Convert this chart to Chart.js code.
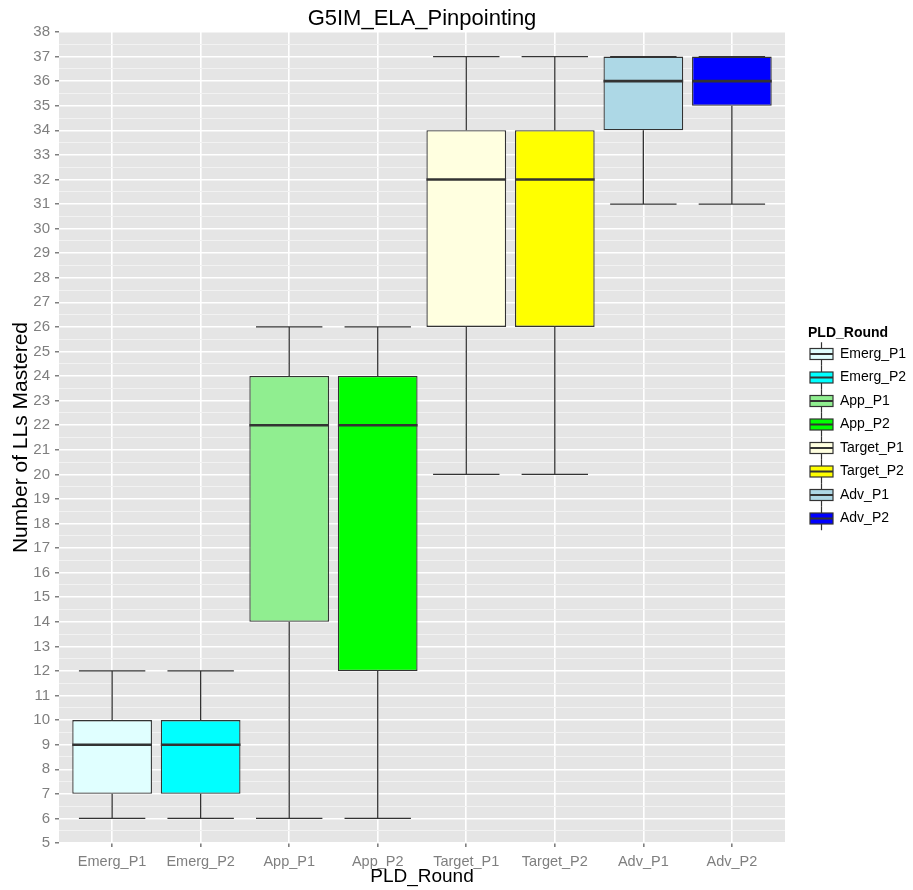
<!DOCTYPE html>
<html>
<head>
<meta charset="utf-8">
<script src="https://cdn.jsdelivr.net/npm/chart.js@4"></script>
<style>
  body { margin: 0; background: #ffffff; }
  #wrap { width: 913px; height: 890px; position: relative; }
</style>
</head>
<body>
<div id="wrap"><canvas id="grafico"></canvas></div>
<script>
// datos
const categorias = ['Emerg_P1', 'Emerg_P2', 'App_P1', 'App_P2', 'Target_P1', 'Target_P2', 'Adv_P1', 'Adv_P2'];
const minimos   = [6, 6, 6, 6, 20, 20, 31, 31];
const cuartil1  = [7, 7, 14, 12, 26, 26, 34, 35];
const medianas  = [9, 9, 22, 22, 32, 32, 36, 36];
const cuartil3  = [10, 10, 24, 24, 34, 34, 37, 37];
const maximos   = [12, 12, 26, 26, 37, 37, 37, 37];
const colores   = ['#E0FFFF', '#00FFFF', '#90EE90', '#00FF00', '#FFFFE0', '#FFFF00', '#ADD8E6', '#0000FF'];
const ticksY    = [5, 6, 7, 8, 9, 10, 11, 12, 13, 14, 15, 16, 17, 18, 19, 20, 21, 22, 23, 24, 25, 26, 27, 28, 29, 30, 31, 32, 33, 34, 35, 36, 37, 38];

const fuente = '"Liberation Sans", Arial, sans-serif';
const linea = '#333333';

const cajas = {
    id: 'cajas',
    beforeDraw(chart) {
        const a = chart.chartArea;
        const ctx = chart.ctx;
        ctx.save();
        ctx.fillStyle = '#E5E5E5';
        ctx.fillRect(a.left, a.top, a.right - a.left, a.bottom - a.top);
        ctx.restore();
    },
    beforeDatasetsDraw(chart) {
        // bigotes detras de las cajas
        const x = chart.scales.x, y = chart.scales.y;
        const ctx = chart.ctx;
        const paso = x.getPixelForValue(1) - x.getPixelForValue(0);
        ctx.save();
        ctx.strokeStyle = linea;
        ctx.lineWidth = 1.3;
        categorias.forEach((c, i) => {
            const cx = x.getPixelForValue(i);
            const med = paso * 0.375;
            ctx.beginPath();
            ctx.moveTo(cx, y.getPixelForValue(maximos[i]));
            ctx.lineTo(cx, y.getPixelForValue(cuartil3[i]));
            ctx.moveTo(cx, y.getPixelForValue(cuartil1[i]));
            ctx.lineTo(cx, y.getPixelForValue(minimos[i]));
            ctx.moveTo(cx - med, y.getPixelForValue(maximos[i]));
            ctx.lineTo(cx + med, y.getPixelForValue(maximos[i]));
            ctx.moveTo(cx - med, y.getPixelForValue(minimos[i]));
            ctx.lineTo(cx + med, y.getPixelForValue(minimos[i]));
            ctx.stroke();
        });
        ctx.restore();
    },
    afterDatasetsDraw(chart) {
        // medianas encima
        const y = chart.scales.y;
        const ctx = chart.ctx;
        const barras = chart.getDatasetMeta(0).data;
        ctx.save();
        ctx.strokeStyle = linea;
        ctx.lineWidth = 2.6;
        barras.forEach((b, i) => {
            const py = y.getPixelForValue(medianas[i]);
            ctx.beginPath();
            ctx.moveTo(b.x - b.width / 2, py);
            ctx.lineTo(b.x + b.width / 2, py);
            ctx.stroke();
        });
        ctx.restore();
    },
    afterDraw(chart) {
        const a = chart.chartArea;
        const ctx = chart.ctx;
        const centro = (a.left + a.right) / 2;
        ctx.save();
        ctx.fillStyle = '#000000';
        ctx.textAlign = 'center';
        ctx.textBaseline = 'middle';
        ctx.font = '22px ' + fuente;
        ctx.fillText('G5IM_ELA_Pinpointing', centro, 19);
        ctx.font = '19px ' + fuente;
        ctx.fillText('PLD_Round', centro, 877);
        ctx.save();
        ctx.translate(21, (a.top + a.bottom) / 2);
        ctx.rotate(-Math.PI / 2);
        ctx.font = '21px ' + fuente;
        ctx.fillText('Number of LLs Mastered', 0, 0);
        ctx.restore();

        // leyenda
        ctx.textAlign = 'left';
        ctx.font = 'bold 14px ' + fuente;
        ctx.fillText('PLD_Round', 808, 333);
        ctx.font = '14px ' + fuente;
        categorias.forEach((c, i) => {
            const cy = 354 + i * 23.5;
            const kx = 810, kw = 23;
            ctx.strokeStyle = linea;
            ctx.lineWidth = 1.2;
            ctx.beginPath();
            ctx.moveTo(kx + kw / 2, cy - 11.75);
            ctx.lineTo(kx + kw / 2, cy + 11.75);
            ctx.stroke();
            ctx.fillStyle = colores[i];
            ctx.fillRect(kx, cy - 5.5, kw, 11);
            ctx.strokeRect(kx, cy - 5.5, kw, 11);
            ctx.lineWidth = 2;
            ctx.beginPath();
            ctx.moveTo(kx, cy);
            ctx.lineTo(kx + kw, cy);
            ctx.stroke();
            ctx.fillStyle = '#000000';
            ctx.fillText(c, 840, cy);
        });
        ctx.restore();
    }
};

const ctx = document.getElementById('grafico').getContext('2d');

new Chart(ctx, {
    type: 'bar',
    data: {
        datasets: [{
            data: categorias.map((c, i) => ({ x: i, y: [cuartil1[i], cuartil3[i]] })),
            backgroundColor: colores,
            borderColor: linea,
            borderWidth: 1.3,
            borderSkipped: false,
            barPercentage: 0.9,
            categoryPercentage: 1
        }]
    },
    options: {
        responsive: true,
        maintainAspectRatio: false,
        animation: false,
        layout: { padding: { left: 0, top: 32, right: 128, bottom: 0 } },
        plugins: {
            legend: { display: false },
            tooltip: { enabled: false },
            title: { display: false }
        },
        scales: {
            x: {
                type: 'linear',
                offset: false,
                min: -0.6,
                max: categorias.length - 0.4,
                afterBuildTicks: s => { s.ticks = categorias.map((c, i) => ({ value: i })); },
                afterFit: s => { s.height = 47; },
                border: { display: false },
                grid: { offset: false, color: '#FFFFFF', lineWidth: 1.6, tickColor: '#7F7F7F', tickLength: 4 },
                ticks: {
                    autoSkip: false,
                    maxRotation: 0,
                    padding: 6,
                    color: '#7F7F7F',
                    font: { family: fuente, size: 14.5 },
                    callback: v => categorias[v]
                }
            },
            y: {
                min: 5,
                max: 38,
                afterBuildTicks: s => {
                    const t = [];
                    ticksY.forEach((v, i) => {
                        t.push({ value: v });
                        if (i < ticksY.length - 1) t.push({ value: v + 0.5 });
                    });
                    s.ticks = t;
                },
                afterFit: s => { s.width = 59; },
                border: { display: false },
                grid: {
                    color: c => Number.isInteger(c.tick.value) ? '#FFFFFF' : '#F2F2F2',
                    lineWidth: c => Number.isInteger(c.tick.value) ? 1.5 : 1,
                    tickColor: c => Number.isInteger(c.tick.value) ? '#7F7F7F' : 'rgba(0,0,0,0)',
                    tickLength: 4
                },
                ticks: {
                    autoSkip: false,
                    padding: 5,
                    color: '#7F7F7F',
                    font: { family: fuente, size: 15 },
                    callback: v => Number.isInteger(v) ? v : ''
                }
            }
        }
    },
    plugins: [cajas]
});
</script>
</body>
</html>
